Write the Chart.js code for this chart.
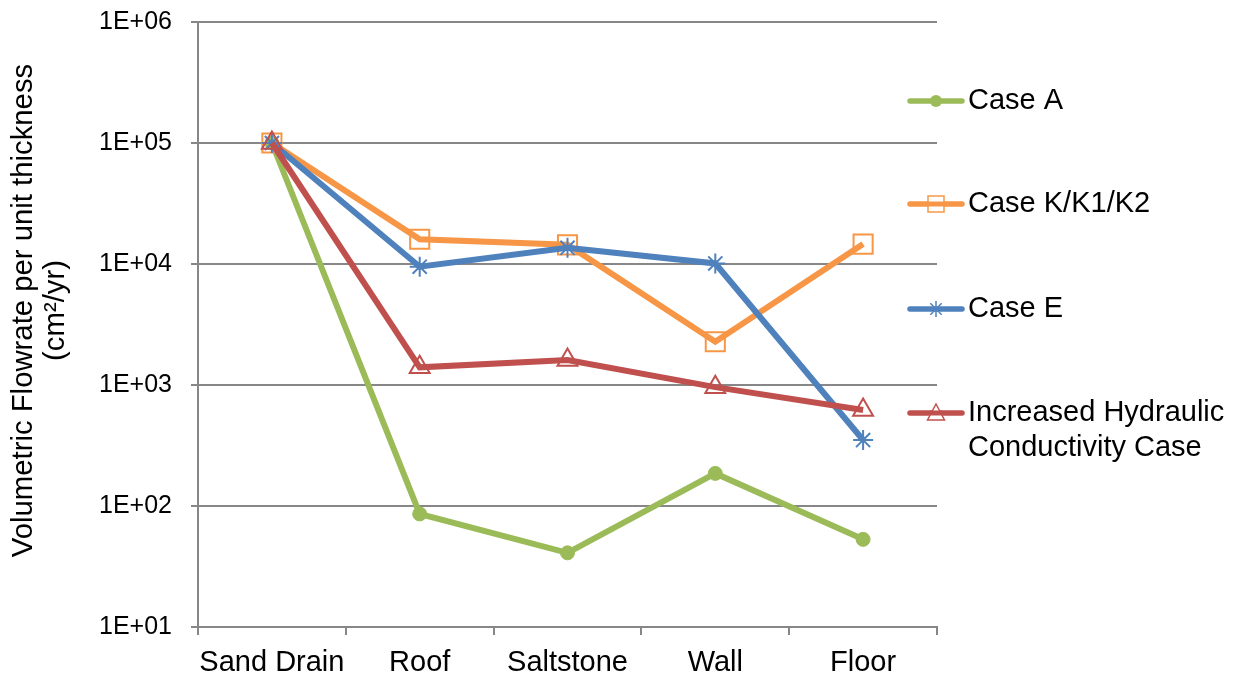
<!DOCTYPE html>
<html>
<head>
<meta charset="utf-8">
<script src="https://cdn.jsdelivr.net/npm/chart.js"></script>
<style>
  html, body { margin: 0; padding: 0; background: #fff; }
  #wrap { width: 1238px; height: 675px; position: relative; }
</style>
</head>
<body>
<div id="wrap"><canvas id="chart" width="1238" height="675"></canvas></div>
<script>
// Categories (flow path components)
const categories = ['Sand Drain', 'Roof', 'Saltstone', 'Wall', 'Floor'];

// Volumetric flowrate per unit thickness, cm^2/yr
const caseA = [100000, 86, 41, 186, 53];
const caseK = [100000, 16000, 14400, 2280, 14600];
const caseE = [100000, 9500, 13600, 10100, 351];
const caseHK = [100000, 1400, 1610, 960, 621];

// Decade tick values and their labels
const yTicks = [10, 100, 1000, 10000, 100000, 1000000];
const yTickLabels = ['1E+01', '1E+02', '1E+03', '1E+04', '1E+05', '1E+06'];

const seriesNames = ['Case A', 'Case K/K1/K2', 'Case E', ['Increased Hydraulic', 'Conductivity Case']];
const yTitleLines = ['Volumetric Flowrate per unit thickness', '(cm\u00B2/yr)'];

const FONT = '"Liberation Sans", Arial, sans-serif';
const GRID = '#878787';

const datasets = [
  { label: 'Case A', data: caseA, borderColor: '#9BBB59', backgroundColor: '#9BBB59',
    pointStyle: 'circle', pointRadius: 7, pointBorderWidth: 1, order: 3 },
  { label: 'Case K/K1/K2', data: caseK, borderColor: '#F79646', backgroundColor: 'rgba(0,0,0,0)',
    pointStyle: 'rect', pointRadius: 13.5, pointBorderWidth: 2, order: 2 },
  { label: 'Case E', data: caseE, borderColor: '#4F81BD', backgroundColor: 'rgba(0,0,0,0)',
    pointStyle: 'star', pointRadius: 10, pointBorderWidth: 2, order: 1 },
  { label: 'Increased Hydraulic Conductivity Case', data: caseHK, borderColor: '#C0504D', backgroundColor: 'rgba(0,0,0,0)',
    pointStyle: 'triangle', pointRadius: 11.5, pointBorderWidth: 2, order: 0 }
].map(d => Object.assign({
  borderWidth: 6,
  tension: 0,
  pointBackgroundColor: d.backgroundColor,
  pointBorderColor: d.borderColor,
  pointHoverRadius: d.pointRadius,
  fill: false,
  clip: false
}, d));

// Small marker shapes used in the side legend
function legendMarker(ctx, style, color, x, y) {
  ctx.save();
  ctx.strokeStyle = color;
  ctx.fillStyle = color;
  ctx.lineWidth = 1.5;
  ctx.beginPath();
  if (style === 'circle') {
    ctx.arc(x, y, 6, 0, Math.PI * 2);
    ctx.fill();
  } else if (style === 'rect') {
    ctx.fillStyle = '#fff';
    ctx.fillRect(x - 8, y - 8, 16, 16);
    ctx.strokeRect(x - 8, y - 8, 16, 16);
    ctx.beginPath();
    ctx.lineWidth = 5;
    ctx.moveTo(x - 8, y); ctx.lineTo(x + 8, y);
    ctx.stroke();
  } else if (style === 'star') {
    const r = 8;
    for (let a = 0; a < 4; a++) {
      const t = a * Math.PI / 4;
      ctx.moveTo(x - r * Math.cos(t), y - r * Math.sin(t));
      ctx.lineTo(x + r * Math.cos(t), y + r * Math.sin(t));
    }
    ctx.stroke();
  } else if (style === 'triangle') {
    ctx.fillStyle = '#fff';
    ctx.moveTo(x, y - 9);
    ctx.lineTo(x + 8.5, y + 7);
    ctx.lineTo(x - 8.5, y + 7);
    ctx.closePath();
    ctx.fill();
    ctx.stroke();
    ctx.beginPath();
    ctx.lineWidth = 5;
    ctx.moveTo(x - 6, y); ctx.lineTo(x + 6, y);
    ctx.stroke();
  }
  ctx.restore();
}

// Legend to the right of the plot area
const sideLegend = {
  id: 'sideLegend',
  afterDraw(chart) {
    const ctx = chart.ctx;
    const left = chart.chartArea.right - 29;
    const rows = [101, 204, 309, 413];
    chart.data.datasets.forEach((ds, i) => {
      const y = rows[i];
      ctx.save();
      ctx.strokeStyle = ds.borderColor;
      ctx.lineWidth = 5.5;
      ctx.lineCap = 'round';
      ctx.beginPath();
      ctx.moveTo(left + 2, y);
      ctx.lineTo(left + 54, y);
      ctx.stroke();
      ctx.restore();
      legendMarker(ctx, ds.pointStyle, ds.borderColor, left + 28, y);
      ctx.save();
      ctx.fillStyle = '#000';
      ctx.font = '29px ' + FONT;
      ctx.textBaseline = 'middle';
      ctx.textAlign = 'left';
      const lines = Array.isArray(seriesNames[i]) ? seriesNames[i] : [seriesNames[i]];
      lines.forEach((t, k) => ctx.fillText(t, left + 60, y + k * 35));
      ctx.restore();
    });
  }
};

// Rotated two-line title for the value axis
const yTitle = {
  id: 'yTitle',
  afterDraw(chart) {
    const ctx = chart.ctx;
    ctx.save();
    ctx.translate(0, 310.5);
    ctx.rotate(-Math.PI / 2);
    ctx.fillStyle = '#000';
    ctx.font = '29.3px ' + FONT;
    ctx.textAlign = 'center';
    ctx.textBaseline = 'middle';
    ctx.fillText(yTitleLines[0], 0, 24);
    ctx.fillText(yTitleLines[1], 0, 56);
    ctx.restore();
  }
};

new Chart(document.getElementById('chart'), {
  type: 'line',
  data: { labels: categories, datasets },
  plugins: [sideLegend, yTitle],
  options: {
    responsive: false,
    animation: false,
    events: [],
    layout: { autoPadding: false, padding: { top: 22, right: 301, left: 0, bottom: 0 } },
    plugins: { legend: { display: false }, tooltip: { enabled: false } },
    scales: {
      x: {
        type: 'category',
        offset: true,
        border: { display: true, color: GRID, width: 2 },
        grid: { display: true, drawOnChartArea: false, drawTicks: true, tickLength: 8,
                offset: true, color: GRID, lineWidth: 2 },
        ticks: { color: '#000', font: { family: FONT, size: 29 }, padding: 11, maxRotation: 0, autoSkip: false },
        afterFit(scale) { scale.height = 48; }
      },
      y: {
        type: 'logarithmic',
        min: 10,
        max: 1000000,
        border: { display: true, color: GRID, width: 2 },
        grid: { color: GRID, lineWidth: 2, tickLength: 7, drawTicks: true },
        afterBuildTicks(scale) { scale.ticks = yTicks.map(v => ({ value: v, major: true })); },
        ticks: {
          color: '#000',
          font: { family: FONT, size: 25 },
          padding: 19,
          autoSkip: false,
          callback(value) { const i = yTicks.indexOf(value); return i >= 0 ? yTickLabels[i] : ''; }
        },
        title: { display: false },
        afterFit(scale) { scale.width = 198; scale.paddingTop = 0; scale.paddingBottom = 0; }
      }
    }
  }
});
</script>
</body>
</html>
